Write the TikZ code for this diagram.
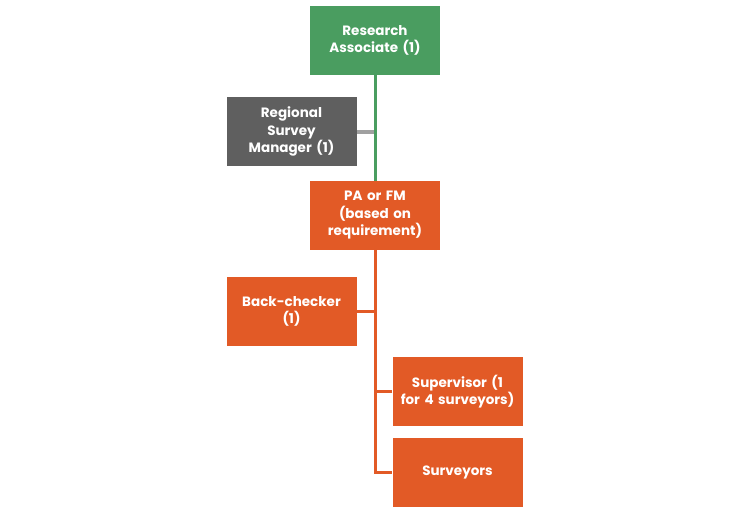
\documentclass[tikz,border=0pt]{standalone}
\usepackage{fontspec}
\setmainfont{Poppins}
\usetikzlibrary{positioning}
\definecolor{boxgreen}{RGB}{74,157,96}
\definecolor{boxorange}{RGB}{226,90,38}
\definecolor{boxgray}{RGB}{95,95,95}
\definecolor{linkgray}{RGB}{160,160,160}
\tikzset{
  rolebox/.style={minimum width=130pt,minimum height=69pt,inner sep=2pt,
    text width=126pt,align=center,text=white,font=\bfseries\fontsize{13.5}{17.5}\selectfont},
  greenbox/.style={rolebox,fill=boxgreen},
  graybox/.style={rolebox,fill=boxgray},
  orangebox/.style={rolebox,fill=boxorange},
  greenlink/.style={draw=boxgreen,line width=3pt},
  graylink/.style={draw=linkgray,line width=4pt},
  orangelink/.style={draw=boxorange,line width=3pt}
}
\begin{document}
\begin{tikzpicture}[x=1pt,y=-1pt]
   \useasboundingbox (0,0) rectangle (736,517);
   \node[greenbox] (ra) at (375,40.5) {Research\\Associate (1)};
   \node[graybox] (rsm) at (291.5,131.5) {Regional\\Survey\\Manager (1)};
   \node[orangebox] (pa) at (375,215.5) {PA or FM\\(based on\\requirement)};
   \node[orangebox] (bc) at (291.5,311.5) {Back-checker\\(1)};
   \node[orangebox] (sup) at (457.5,391.5) {Supervisor (1\\for 4 surveyors)};
   \node[orangebox] (srv) at (457.5,472) {Surveyors};
   \draw[graylink] (rsm.east) -- (rsm.east -| ra.south);
   \draw[greenlink] (ra.south) -- (pa.north);
   \draw[orangelink] (pa.south) |- (srv.west);
   \draw[orangelink] (bc.east) -- (bc.east -| pa.south);
   \draw[orangelink] (sup.west) -- (sup.west -| pa.south);
\end{tikzpicture}
\end{document}
